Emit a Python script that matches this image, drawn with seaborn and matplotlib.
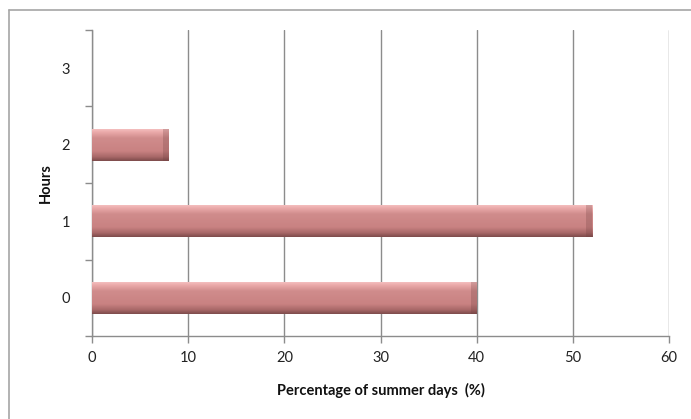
import numpy as np
import pandas as pd
import matplotlib
matplotlib.use("Agg")
import matplotlib.pyplot as plt
import seaborn as sns
from matplotlib.colors import LinearSegmentedColormap
from matplotlib.lines import Line2D

hours = ["0", "1", "2", "3"]
percent = [40, 52, 8, 0]
x_ticks = [0, 10, 20, 30, 40, 50, 60]

sns.set_theme(style="white")
plt.rcParams['font.family'] = ['Lato', 'DejaVu Sans']

df = pd.DataFrame({"Hours": hours, "Percent": percent})

fig = plt.figure(figsize=(6.91, 4.19), dpi=100)
ax = fig.add_axes([92/691, 1-336/419, (669-92)/691, (336-30)/419])

sns.barplot(data=df, y="Hours", x="Percent", order=hours, orient="h",
            color="#c98484", width=0.42, ax=ax, saturation=1, zorder=3)

ax.set_xlim(0, 60)
ax.set_ylim(-0.5, 3.5)

# gradient overlay for a glossy 3D look
cmap = LinearSegmentedColormap.from_list("gloss", [
    (0.0, "#f6c4c4"), (0.12, "#eaa9a9"), (0.3, "#d08c8c"),
    (0.7, "#c98282"), (0.88, "#a86868"), (1.0, "#7e4c4c")])
grad = np.linspace(0, 1, 64).reshape(-1, 1)
for p in list(ax.patches):
    w = p.get_width()
    if w <= 0:
        p.set_visible(False)
        continue
    x0, y0 = p.get_x(), p.get_y()
    h = p.get_height()
    y_lo, y_hi = min(y0, y0 + h), max(y0, y0 + h)
    im = ax.imshow(grad, cmap=cmap, aspect="auto", origin="upper",
                   extent=[x0, x0 + w, y_lo, y_hi], zorder=3.5,
                   interpolation="bilinear")
    im.set_clip_path(p)
    capw = 0.6
    ax.fill_between([x0 + w - capw, x0 + w], y_lo, y_hi, color="#6e3e3e",
                    alpha=0.25, zorder=3.6, linewidth=0)
    p.set_edgecolor("none")

ax.set_xlim(0, 60)
ax.set_ylim(-0.5, 3.5)
ax.set_xticks(x_ticks)
ax.set_xticklabels([str(t) for t in x_ticks], fontsize=10.5, color="#222222")
ax.set_yticks([0, 1, 2, 3])
ax.set_yticklabels(hours, fontsize=10.5, color="#222222")
ax.set_yticks([-0.5, 0.5, 1.5, 2.5, 3.5], minor=True)
ax.tick_params(axis="y", which="major", length=0, pad=16)
ax.tick_params(axis="y", which="minor", length=5, width=1, color="#8c8c8c", left=True)
ax.tick_params(axis="x", which="major", length=5, width=1, color="#8c8c8c", bottom=True, pad=6)

ax.grid(axis="x", color="#8c8c8c", linewidth=1, zorder=0)
ax.set_axisbelow(True)
for s in ["top", "right"]:
    ax.spines[s].set_visible(False)
for s in ["left", "bottom"]:
    ax.spines[s].set_color("#8c8c8c")
    ax.spines[s].set_linewidth(1)

ax.set_xlabel("Percentage of summer days  (%)", fontsize=10.5, fontweight="bold",
              color="#111111", labelpad=13)
ax.set_ylabel("Hours", fontsize=10.5, fontweight="bold", color="#111111", labelpad=6)

# outer chart border (top and left visible)
fig.add_artist(Line2D([9/691, 1.0], [1-10/419, 1-10/419], transform=fig.transFigure,
                      color="#a6a6a6", linewidth=1.2))
fig.add_artist(Line2D([9/691, 9/691], [0.0, 1-10/419], transform=fig.transFigure,
                      color="#a6a6a6", linewidth=1.2))

fig.savefig("out.png", dpi=100)
